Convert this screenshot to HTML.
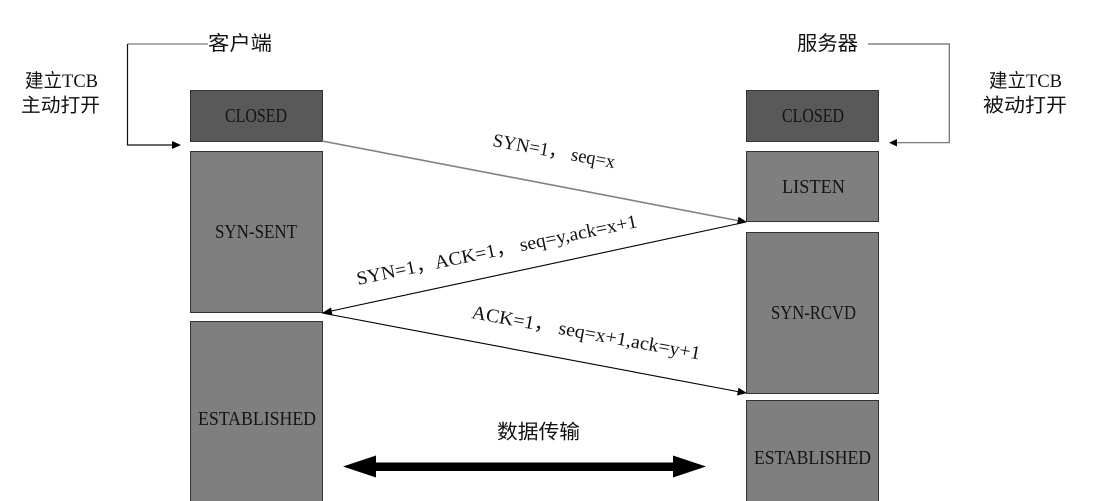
<!DOCTYPE html>
<html><head><meta charset="utf-8"><style>
html,body{margin:0;padding:0;background:#fff;}
svg{display:block;}
</style></head><body>
<svg width="1102" height="501" viewBox="0 0 1102 501" xmlns="http://www.w3.org/2000/svg">
<rect width="1102" height="501" fill="#fff"/>
<!-- boxes left -->
<g stroke="#333" stroke-width="1">
<rect x="190.5" y="90.5" width="132" height="51" fill="#595959"/>
<rect x="190.5" y="151.5" width="132" height="161" fill="#7f7f7f"/>
<rect x="190.5" y="321.5" width="132" height="190" fill="#7f7f7f"/>
<rect x="746.5" y="90.5" width="132" height="51" fill="#595959"/>
<rect x="746.5" y="151.5" width="132" height="70" fill="#7f7f7f"/>
<rect x="746.5" y="232.5" width="132" height="161" fill="#7f7f7f"/>
<rect x="746.5" y="400.5" width="132" height="110" fill="#7f7f7f"/>
</g>
<g font-family="'Liberation Serif', serif" font-size="20" fill="#141414" lengthAdjust="spacingAndGlyphs">
<text x="225" y="122" textLength="62" lengthAdjust="spacingAndGlyphs">CLOSED</text>
<text x="215" y="238" textLength="82" lengthAdjust="spacingAndGlyphs">SYN-SENT</text>
<text x="198" y="425" textLength="118" lengthAdjust="spacingAndGlyphs">ESTABLISHED</text>
<text x="782" y="122" textLength="62" lengthAdjust="spacingAndGlyphs">CLOSED</text>
<text x="782" y="193" textLength="63" lengthAdjust="spacingAndGlyphs">LISTEN</text>
<text x="771" y="319" textLength="85" lengthAdjust="spacingAndGlyphs">SYN-RCVD</text>
<text x="754" y="464" textLength="117" lengthAdjust="spacingAndGlyphs">ESTABLISHED</text>
</g>
<!-- connectors top -->
<g fill="none" stroke-width="1.2">
<path d="M127.5 44 H208" stroke="#7a7a7a"/>
<path d="M127.5 44 V145 H174" stroke="#111"/>
<path d="M868 44 H949.3 V142.7 H895" stroke="#6a6a6a"/>
</g>
<polygon points="181,145 172,141 172,149" fill="#000"/>
<polygon points="889,142.7 897,139 897,146.5" fill="#000"/>
<!-- message arrows -->
<line x1="322" y1="141" x2="740" y2="221" stroke="#808080" stroke-width="1.6"/>
<polygon points="747,222 738.5,216.7 737,224.5" fill="#000"/>
<line x1="746" y1="222" x2="329" y2="311.5" stroke="#000" stroke-width="1.1"/>
<polygon points="322,313 331,307.5 332.5,315.5" fill="#000"/>
<line x1="322" y1="313" x2="740" y2="392" stroke="#000" stroke-width="1.1"/>
<polygon points="747,393 738.5,387.7 737,395.5" fill="#000"/>
<!-- double arrow -->
<polygon points="343,466.5 376,455.5 376,462.5 673,462.5 673,455.5 706,466.5 673,477.5 673,471 376,471 376,477.5" fill="#000"/>
<!-- message labels -->
<g font-family="'Liberation Serif', 'Noto Sans CJK SC', serif" font-size="19" fill="#111">
<text x="0" y="0" textLength="124" lengthAdjust="spacingAndGlyphs" transform="translate(492,146) rotate(10.3)">SYN=1， seq=x</text>
<text x="0" y="0" textLength="286" lengthAdjust="spacingAndGlyphs" transform="translate(358,285) rotate(-11.7)">SYN=1，ACK=1， seq=y,ack=x+1</text>
<text x="0" y="0" textLength="232" lengthAdjust="spacingAndGlyphs" transform="translate(471,318) rotate(10.3)">ACK=1， seq=x+1,ack=y+1</text>
</g>
<!-- chinese labels -->
<g font-family="'Liberation Serif', 'Noto Sans CJK SC', sans-serif" font-size="19" fill="#111" dominant-baseline="central">
<text x="208" y="44" textLength="64" lengthAdjust="spacingAndGlyphs" font-size="20">客户端</text>
<text x="797" y="44" textLength="61" lengthAdjust="spacingAndGlyphs" font-size="20">服务器</text>
<text x="25" y="81.5" textLength="73" lengthAdjust="spacingAndGlyphs">建立TCB</text>
<text x="21" y="106" textLength="79" lengthAdjust="spacingAndGlyphs">主动打开</text>
<text x="989" y="81.5" textLength="73" lengthAdjust="spacingAndGlyphs">建立TCB</text>
<text x="983" y="106" textLength="84" lengthAdjust="spacingAndGlyphs">被动打开</text>
<text x="497" y="432.5" textLength="83" lengthAdjust="spacingAndGlyphs" font-size="20">数据传输</text>
</g>
</svg>
</body></html>
